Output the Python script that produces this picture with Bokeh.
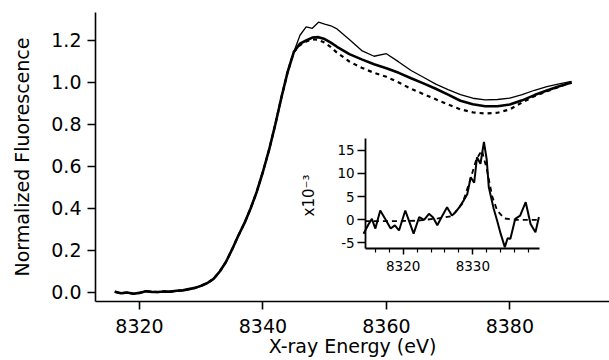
import math
from bokeh.plotting import figure
from bokeh.models import Range1d, LinearAxis, FixedTicker, PrintfTickFormatter, Label
from bokeh.embed import file_html
from bokeh.resources import INLINE

# ---------------- data ----------------
energy = [8316, 8317, 8318, 8319, 8320, 8321, 8322, 8323, 8324, 8325, 8326, 8327,
          8328, 8329, 8330, 8331, 8332, 8333, 8334, 8335, 8336, 8337, 8338, 8339,
          8340, 8341, 8342, 8343, 8344, 8345, 8346, 8347, 8348, 8349, 8350, 8351,
          8352, 8354, 8356, 8358, 8360, 8362, 8364, 8366, 8368, 8370, 8372, 8374,
          8376, 8378, 8380, 8382, 8384, 8386, 8388, 8390]
edge = [0.004, -0.004, 0.000, -0.006, -0.002, 0.006, 0.003, 0.002, 0.005, 0.004, 0.008, 0.010,
        0.016, 0.022, 0.032, 0.045, 0.065, 0.100, 0.145, 0.205, 0.270, 0.330, 0.400, 0.480,
        0.575, 0.680, 0.800, 0.930, 1.050, 1.145]
upper_tail = [1.225, 1.265, 1.258, 1.287, 1.278, 1.270, 1.255, 1.205, 1.152, 1.125, 1.137,
              1.098, 1.057, 1.025, 0.992, 0.966, 0.942, 0.925, 0.917, 0.919, 0.926, 0.942,
              0.963, 0.980, 0.993, 1.005]
thick_tail = [1.185, 1.200, 1.214, 1.216, 1.207, 1.190, 1.170, 1.135, 1.110, 1.087, 1.068,
              1.046, 1.020, 0.996, 0.970, 0.942, 0.913, 0.896, 0.887, 0.887, 0.895, 0.915,
              0.940, 0.962, 0.982, 1.000]
dashed_tail = [1.178, 1.195, 1.205, 1.203, 1.190, 1.168, 1.142, 1.100, 1.070, 1.046, 1.027,
               1.000, 0.970, 0.945, 0.920, 0.895, 0.872, 0.858, 0.852, 0.856, 0.872, 0.905,
               0.935, 0.958, 0.980, 1.000]
upper = edge + upper_tail
thick = edge + thick_tail
dashed = edge + dashed_tail

inset_e = [8314.3, 8315.0, 8315.5, 8316.0, 8316.7, 8317.4, 8318.2, 8318.8, 8319.4, 8320.3,
           8320.9, 8321.5, 8322.3, 8323.0, 8323.7, 8324.3, 8324.9, 8325.6, 8326.3, 8327.0,
           8327.5, 8328.1, 8328.7, 8329.2, 8329.7, 8330.2, 8330.6, 8331.1, 8331.6, 8332.0,
           8332.3, 8333.0, 8333.5, 8334.0, 8334.6, 8335.0, 8335.4, 8336.1, 8336.8, 8337.6,
           8338.3, 8339.0, 8339.5]
inset_diff = [-3.0, -1.0, 0.2, -1.9, 2.0, 0.2, -1.9, -1.2, -2.3, 2.0,
              -0.5, -3.0, 0.6, 0.0, 1.3, 0.5, -1.2, 0.8, 2.7, 0.9,
              1.6, 2.8, 4.2, 5.5, 9.2, 8.0, 13.5, 12.1, 16.8, 13.0,
              7.0, 2.4, -0.2, -3.0, -5.9, -4.0, -4.1, 0.2, 0.9, 3.8,
              -0.9, -2.7, 0.6]
fit_e = [8314.5, 8318, 8322, 8325, 8327, 8328.5, 8329.5, 8330.5, 8331.3, 8332.0,
         8332.8, 8333.5, 8334.5, 8336, 8339.5]
fit_diff = [-0.3, -0.3, -0.2, 0.3, 0.8, 3.5, 8.0, 13.0, 15.0, 11.0,
            5.0, 2.0, 0.3, 0.0, 0.0]

main_xticks = [8320, 8340, 8360, 8380]
main_yticks = [0.0, 0.2, 0.4, 0.6, 0.8, 1.0, 1.2]
inset_xticks = [8320, 8330]
inset_xminor = [8316, 8318, 8322, 8324, 8326, 8328, 8332, 8334, 8336, 8338]
inset_yticks = [-5, 0, 5, 10, 15]

FONT = "DejaVu Sans"

p = figure(width=609, height=360,
           x_range=Range1d(8312.87, 8396.15), y_range=Range1d(-0.0429, 1.3333),
           output_backend="svg", toolbar_location=None,
           x_axis_location=None, y_axis_location=None,
           min_border_left=95, min_border_right=0, min_border_top=12, min_border_bottom=59)
p.grid.visible = False
p.outline_line_color = None
p.background_fill_color = "white"
p.border_fill_color = "white"

p.extra_x_ranges = {"ix": Range1d(8275.79, 8349.64)}
p.extra_y_ranges = {"iy": Range1d(-17.65, 44.77)}

# main curves
p.line(energy, dashed, line_color="black", line_width=2.2, line_dash="4 4")
p.line(energy, thick, line_color="black", line_width=2.6)
p.line(energy, upper, line_color="black", line_width=1.3)

# main axes
yax = LinearAxis(ticker=FixedTicker(ticks=main_yticks, minor_ticks=[]),
                 formatter=PrintfTickFormatter(format="%.1f"),
                 axis_label="Normalized Fluorescence")
xax = LinearAxis(ticker=FixedTicker(ticks=main_xticks, minor_ticks=[]),
                 formatter=PrintfTickFormatter(format="%d"),
                 axis_label="X-ray Energy (eV)")
for ax in (xax, yax):
    ax.axis_line_width = 1.6
    ax.major_tick_line_width = 1.6
    ax.major_tick_out = 8
    ax.major_tick_in = 0
    ax.minor_tick_out = 0
    ax.minor_tick_in = 0
    ax.major_label_text_font = FONT
    ax.major_label_text_font_size = "19px"
    ax.major_label_text_color = "black"
    ax.axis_label_text_font = FONT
    ax.axis_label_text_font_size = "19px"
    ax.axis_label_text_font_style = "normal"
    ax.axis_label_text_color = "black"
yax.major_label_standoff = 6
yax.axis_label_standoff = 15
xax.major_label_standoff = 9
xax.axis_label_standoff = -1
p.add_layout(yax, "left")
p.add_layout(xax, "below")

# inset curves
p.line(fit_e, fit_diff, x_range_name="ix", y_range_name="iy",
       line_color="black", line_width=1.8, line_dash="5 4")
p.line(inset_e, inset_diff, x_range_name="ix", y_range_name="iy",
       line_color="black", line_width=2.0)

# inset axes
ixax = LinearAxis(x_range_name="ix", y_range_name="iy",
                  ticker=FixedTicker(ticks=inset_xticks, minor_ticks=inset_xminor),
                  formatter=PrintfTickFormatter(format="%d"),
                  fixed_location=-6.2, bounds=(8314.6, 8339.6))
iyax = LinearAxis(x_range_name="ix", y_range_name="iy",
                  ticker=FixedTicker(ticks=inset_yticks, minor_ticks=[]),
                  formatter=PrintfTickFormatter(format="%d"),
                  fixed_location=8314.6, bounds=(-6.2, 17.6))
for ax in (ixax, iyax):
    ax.axis_line_width = 1.8
    ax.major_tick_line_width = 1.5
    ax.minor_tick_line_width = 1.2
    ax.major_tick_in = 0
    ax.minor_tick_out = 4
    ax.minor_tick_in = 0
    ax.major_label_text_font = FONT
    ax.major_label_text_font_size = "13.5px"
    ax.major_label_text_color = "black"
ixax.major_tick_out = 6
iyax.major_tick_out = 8
ixax.major_label_standoff = 7
iyax.major_label_standoff = 3
p.add_layout(ixax, "below")
p.add_layout(iyax, "left")

p.add_layout(Label(x=8306.4, y=5.25, x_range_name="ix", y_range_name="iy",
                   text="x10⁻³", angle=math.pi / 2, text_align="center",
                   text_baseline="middle", text_font=FONT, text_font_size="15px",
                   text_color="black"))

open("out.html", "w").write(file_html(p, INLINE))
